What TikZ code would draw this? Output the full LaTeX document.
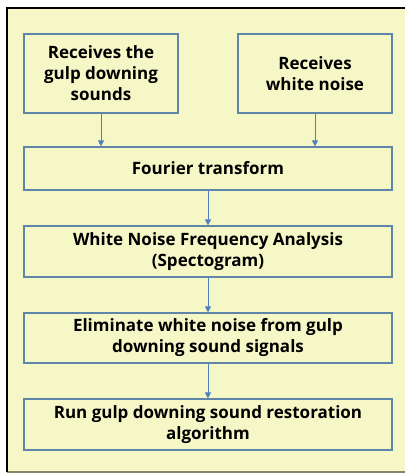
\documentclass[tikz,border=0pt]{standalone}
\usepackage{fontspec}
\setmainfont{Open Sans}
\usetikzlibrary{arrows.meta}
\definecolor{paper}{HTML}{F5F7C6}
\definecolor{boxline}{HTML}{5F86A8}
\definecolor{flow}{HTML}{4F81BD}
\definecolor{rim}{HTML}{85856A}

\begin{document}
\begin{tikzpicture}[x=1pt,y=-1pt,
  stage/.style={draw=boxline,line width=1.2pt,fill=paper,align=center,
    font=\fontsize{17}{21}\selectfont\bfseries,inner sep=2pt},
  flowarrow/.style={draw=flow,line width=1pt,-{Triangle[width=6pt,length=6pt]}}]
\useasboundingbox (0,0) rectangle (405,473);
\fill[paper] (7,8) rectangle (405,472);
\draw[rim,line width=1.5pt] (7,472) -- (405,472);
\draw[black,line width=2.2pt] (7,472) -- (7,8) -- (405,8);
% input stages
\node[stage,minimum width=154pt,minimum height=79pt] (gulp) at (101,73.5)
  {Receives the\\gulp downing\\sounds};
\node[stage,minimum width=154pt,minimum height=79pt] (noise) at (315,73.5)
  {Receives\\white noise};
% processing chain
\node[stage,minimum width=368pt,minimum height=43pt] (fourier) at (208,168.5)
  {Fourier transform};
\node[stage,minimum width=368pt,minimum height=51pt] (spectrum) at (208,251.5)
  {White Noise Frequency Analysis\\(Spectogram)};
\node[stage,minimum width=368pt,minimum height=50pt] (eliminate) at (208,338)
  {Eliminate white noise from gulp\\downing sound signals};
\node[stage,minimum width=368pt,minimum height=51pt] (restore) at (208,424.5)
  {Run gulp downing sound restoration\\algorithm};
\draw[flowarrow] (gulp.south) -- (gulp.south |- fourier.north);
\draw[flowarrow] (noise.south) -- (noise.south |- fourier.north);
\draw[flowarrow] (fourier) -- (spectrum);
\draw[flowarrow] (spectrum) -- (eliminate);
\draw[flowarrow] (eliminate) -- (restore);
\end{tikzpicture}
\end{document}
